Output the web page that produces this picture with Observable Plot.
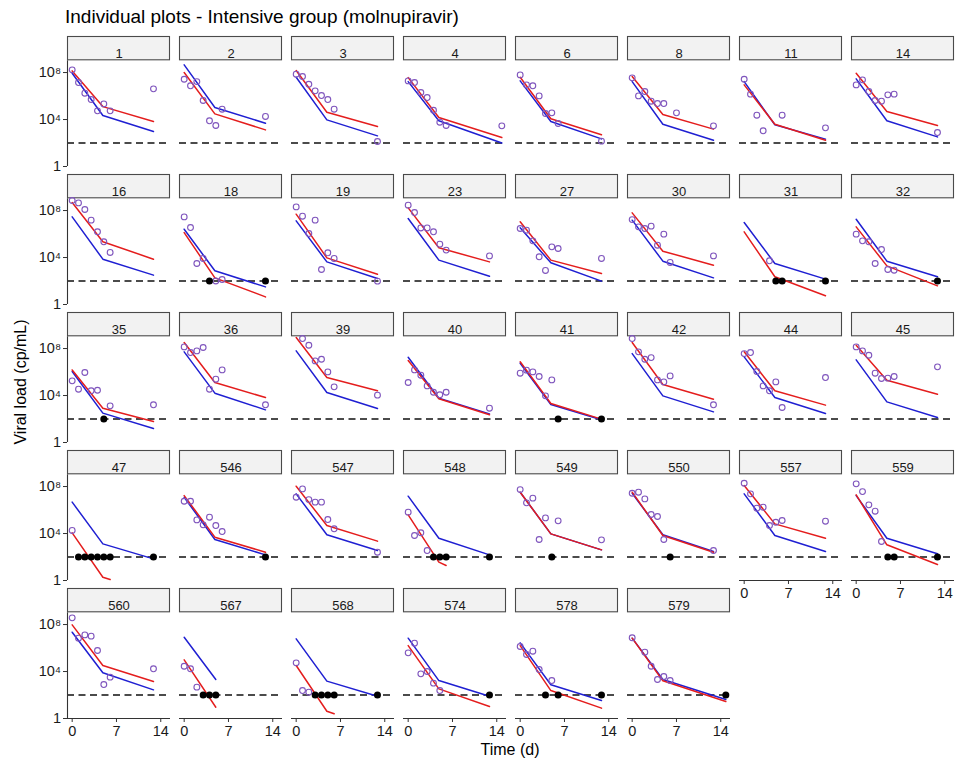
<!DOCTYPE html>
<html>
<head>
<meta charset="utf-8">
<script src="https://cdn.jsdelivr.net/npm/d3@7"></script>
<script src="https://cdn.jsdelivr.net/npm/@observablehq/plot@0.6"></script>
<style>
  body { margin: 0; background: #fff; font-family: "Liberation Sans", Arial, sans-serif; }
  #wrap { position: relative; width: 957px; height: 764px; overflow: hidden; }
  #chart { position: absolute; left: 0; top: 0; }
  #title { position: absolute; left: 65px; top: 7px; font-size: 19px; line-height: 19px; color: #000; white-space: nowrap; }
  #xlab { position: absolute; left: 510px; top: 742px; transform: translateX(-50%); font-size: 16px; line-height: 16px; color: #000; white-space: nowrap; }
  #ylab { position: absolute; left: 21px; top: 382px; transform: translate(-50%, -50%) rotate(-90deg); font-size: 16px; line-height: 16px; color: #000; white-space: nowrap; }
</style>
</head>
<body>
<div id="wrap">
  <div id="chart"></div>
  <div id="title">Individual plots - Intensive group (molnupiravir)</div>
  <div id="xlab">Time (d)</div>
  <div id="ylab">Viral load (cp/mL)</div>
</div>
<script>
// ---------------- data (log10 copies/mL, time in days) ----------------
const panelIds = ["1","2","3","4","6","8","11","14",
  "16","18","19","23","27","30","31","32",
  "35","36","39","40","41","42","44","45",
  "47","546","547","548","549","550","557","559",
  "560","567","568","574","578","579"];

// detected observations [day, log10 VL]
const detectedLog10 = [
  [[0,8.23],[1,7.15],[2,6.24],[3,5.70],[4,4.74],[5,5.33],[6,4.74],[12.85,6.61]],
  [[0,7.43],[1,6.87],[2,7.23],[3,5.62],[4,3.89],[5,3.49],[6,4.88],[12.85,4.26]],
  [[0,7.86],[1,7.66],[2,7.00],[3,6.44],[4,6.04],[5,5.70],[6,4.88],[12.85,2.13]],
  [[0,7.29],[1,7.15],[2,6.30],[3,5.87],[4,4.79],[5,3.77],[6,3.49],[14.8,3.46]],
  [[0,7.80],[1,6.95],[2,6.87],[3,6.01],[4,4.51],[5,4.57],[6,3.66],[12.85,2.16]],
  [[0,7.55],[1,6.01],[2,6.38],[3,5.56],[4,5.36],[5,5.36],[7,4.57],[12.85,3.46]],
  [[0,7.43],[1,6.16],[2,4.37],[3,3.04],[6,4.37],[12.85,3.29]],
  [[0,6.95],[1,7.38],[2,6.38],[3,5.62],[4,5.56],[5,6.10],[6,6.16],[12.85,2.89]],
  [[0,8.85],[1,8.65],[2,8.09],[3,7.18],[4,6.19],[5,5.34],[6,4.43]],
  [[0,7.46],[1,6.55],[2,3.49],[3,3.92],[5,2.00],[6,2.13]],
  [[0,8.31],[1,7.52],[2,6.04],[3,7.18],[4,2.98],[5,4.40],[6,3.92],[12.85,1.99]],
  [[0,8.46],[1,7.83],[2,6.52],[3,6.52],[4,6.19],[5,5.14],[6,4.63],[12.85,4.14]],
  [[0,6.47],[1,6.33],[2,5.42],[3,4.06],[4,2.90],[5,4.91],[6,4.77],[12.85,3.92]],
  [[0,7.23],[1,6.61],[2,6.47],[3,6.67],[4,5.05],[5,5.99],[6,3.58],[12.85,4.14]],
  [[4,3.72]],
  [[0,5.99],[1,5.42],[2,5.34],[3,3.49],[4,4.68],[5,2.98],[6,2.92]],
  [[0,5.25],[1,4.54],[2,5.96],[3,4.40],[4,4.45],[6,3.12],[12.85,3.21]],
  [[0,8.14],[1,7.66],[2,7.80],[3,8.09],[4,4.54],[5,5.39],[6,6.18],[12.85,3.21]],
  [[1,8.85],[2,8.28],[3,6.95],[4,7.09],[5,6.01],[6,4.74],[12.85,4.03]],
  [[0,5.11],[1,6.18],[2,5.73],[3,4.82],[4,4.28],[5,4.06],[6,4.28],[12.85,2.92]],
  [[0,5.90],[1,6.16],[2,6.01],[3,5.62],[4,3.97],[5,5.33]],
  [[0,8.85],[1,7.72],[2,7.09],[3,7.23],[4,5.33],[5,5.16],[6,5.67],[12.85,3.21]],
  [[0,7.57],[1,7.66],[2,6.04],[3,4.82],[4,4.40],[5,5.16],[6,2.98],[12.85,5.53]],
  [[0,8.14],[1,7.80],[2,7.43],[3,5.90],[4,5.45],[5,5.48],[6,5.62],[12.85,6.44]],
  [[0,4.26]],
  [[0,6.75],[1,6.75],[2,5.16],[3,4.74],[4,5.39],[5,4.68],[6,4.17]],
  [[0,7.09],[1,7.80],[2,6.89],[3,6.67],[4,6.67],[5,5.19],[6,4.40],[12.85,2.41]],
  [[0,5.82],[1,3.83],[2,4.06],[3,2.55]],
  [[0,7.74],[1,6.61],[2,7.01],[3,3.49],[4,5.33],[6,5.08],[12.85,3.46]],
  [[0,7.43],[1,7.52],[2,6.95],[3,5.62],[4,5.45],[5,3.49],[12.85,2.55]],
  [[0,8.28],[1,7.38],[2,6.16],[3,6.24],[4,4.68],[5,4.96],[6,5.11],[12.85,5.05]],
  [[0,8.23],[1,7.57],[2,6.44],[3,5.90],[4,3.32]],
  [[0,8.57],[1,6.84],[2,7.12],[3,7.01],[4,5.79],[5,2.89],[6,3.52],[12.85,4.23]],
  [[0,4.45],[1,4.23],[2,2.67]],
  [[0,4.74],[1,2.38],[2,2.24]],
  [[0,5.59],[1,6.41],[2,3.80],[3,4.00],[4,3.01],[5,2.38]],
  [[0,6.13],[1,5.45],[2,5.73],[3,4.17],[5,3.23]],
  [[0,6.87],[2,5.65],[3,4.45],[4,3.32],[5,3.57],[6,3.23]]
];

// samples below the limit of quantification (days)
const blqDays = [
  [],[],[],[],[],[],[],[],
  [],[4,12.85],[],[],[],[],[5,6,12.85],[12.85],
  [5],[],[],[],[6,12.85],[],[],[],
  [1,2,3,4,5,6,12.85],[12.85],[],[4,5,6,12.85],[5],[6],[],[5,6,12.85],
  [],[3,4,5],[3,4,5,6,12.85],[12.85],[4,6,12.85],[14.8]
];

// individual model fit (red) [day, log10 VL]
const fitRedLog10 = [
  [[0,8.14],[4.85,5.10],[12.85,3.83]],
  [[0,8.00],[4.85,4.48],[12.85,3.12]],
  [[0,8.17],[4.85,4.62],[12.85,3.40]],
  [[0,7.57],[4.85,4.17],[14.8,2.47]],
  [[0,7.60],[4.85,4.06],[12.85,2.70]],
  [[0,7.66],[4.85,4.43],[12.85,3.18]],
  [[0,6.95],[4.85,3.60],[12.85,2.24]],
  [[0,7.94],[4.85,4.68],[12.85,3.49]],
  [[0,8.68],[4.85,5.34],[12.85,3.86]],
  [[0,6.12],[4.85,2.27],[12.85,0.65]],
  [[0,7.69],[4.85,3.97],[12.85,2.58]],
  [[0,8.23],[4.85,4.83],[12.85,3.63]],
  [[0,7.04],[4.85,3.78],[12.85,2.64]],
  [[0,7.80],[4.85,4.54],[12.85,3.35]],
  [[0,6.19],[4.85,2.36],[12.85,0.74]],
  [[0,6.61],[4.85,3.29],[12.85,1.59]],
  [[0,6.18],[4.85,2.92],[12.85,1.79]],
  [[0,8.51],[4.85,5.11],[12.85,3.83]],
  [[0,8.94],[4.85,5.53],[12.85,4.40]],
  [[0,6.98],[4.85,3.72],[12.85,2.36]],
  [[0,6.87],[4.85,3.32],[12.85,1.99]],
  [[0,8.51],[4.85,4.94],[12.85,3.69]],
  [[0,7.72],[4.85,4.40],[12.85,3.18]],
  [[0,8.28],[4.85,5.30],[12.85,4.11]],
  [[0,4.06],[4.85,0.28],[6,0.09]],
  [[0,7.23],[4.85,3.69],[12.85,2.41]],
  [[0,8.03],[4.85,4.68],[12.85,3.35]],
  [[0,5.59],[4.85,1.56],[6,1.28]],
  [[0,7.52],[4.85,3.97],[12.85,2.61]],
  [[0,7.52],[4.85,3.83],[12.85,2.41]],
  [[0,8.09],[4.85,4.82],[12.85,3.60]],
  [[0,7.29],[4.85,3.04],[12.85,1.36]],
  [[0,7.97],[4.85,4.51],[12.85,3.15]],
  [[0,4.99],[5,0.96]],
  [[0,4.51],[4.85,0.62],[6,0.40]],
  [[0,6.21],[4.85,2.52],[12.85,1.02]],
  [[0,6.21],[4.85,2.38],[12.85,0.88]],
  [[0,6.84],[4.85,3.21],[14.8,1.45]]
];

// population model fit (blue) [day, log10 VL]
const fitBlueLog10 = [
  [[0,7.94],[4.85,4.34],[12.85,2.98]],
  [[0,8.65],[4.85,5.02],[12.85,3.69]],
  [[0,7.60],[4.85,3.97],[12.85,2.61]],
  [[0,7.23],[4.85,3.89],[14.8,2.00]],
  [[0,7.29],[4.85,3.83],[12.85,2.35]],
  [[0,7.23],[4.85,3.60],[12.85,2.24]],
  [[0,7.23],[4.85,3.55],[12.85,2.33]],
  [[0,7.46],[4.85,3.89],[12.85,2.52]],
  [[0,7.46],[4.85,3.86],[12.85,2.50]],
  [[0,6.41],[4.85,2.87],[12.85,1.50]],
  [[0,7.12],[4.85,3.63],[12.85,2.21]],
  [[0,7.32],[4.85,3.78],[12.85,2.41]],
  [[0,6.53],[4.85,3.55],[12.85,1.99]],
  [[0,7.18],[4.85,3.69],[12.85,2.27]],
  [[0,6.98],[4.85,3.49],[12.85,2.16]],
  [[0,7.26],[4.85,3.69],[12.85,2.36]],
  [[0,6.04],[4.85,2.50],[12.85,1.19]],
  [[0,7.72],[4.85,4.20],[12.85,2.78]],
  [[0,7.80],[4.85,4.26],[12.85,2.89]],
  [[0,7.26],[4.85,3.77],[12.85,2.44]],
  [[0,6.75],[4.85,3.23],[12.85,1.93]],
  [[0,7.57],[4.85,3.97],[12.85,2.61]],
  [[0,7.29],[4.85,3.83],[12.85,2.47]],
  [[0,7.04],[4.85,3.46],[12.85,2.13]],
  [[0,6.67],[4.85,3.12],[12.85,1.84]],
  [[0,7.09],[4.85,3.49],[12.85,2.18]],
  [[0,7.38],[4.85,3.89],[12.85,2.55]],
  [[0,7.18],[4.85,3.60],[12.85,2.18]],
  [[0,7.52],[4.85,3.97],[12.85,2.61]],
  [[0,7.43],[4.85,3.89],[12.85,2.47]],
  [[0,7.38],[4.85,3.83],[12.85,2.47]],
  [[0,7.23],[4.85,3.60],[12.85,2.27]],
  [[0,7.35],[4.85,3.89],[12.85,2.44]],
  [[0,6.92],[5,3.32]],
  [[0,6.78],[4.85,3.18],[12.85,1.90]],
  [[0,6.84],[4.85,3.23],[12.85,1.90]],
  [[0,6.44],[4.85,2.87],[12.85,1.53]],
  [[0,6.84],[4.85,3.32],[14.8,1.62]]
];

const loqCopies = 100;
const xTicks = [0, 7, 14];
const yTicks = [1, 1e4, 1e8];

// ---------------- layout helpers ----------------
const nCols = 8;
const xDomain = [-0.74, 15.54];
const bandPx = 130, stripPx = 24.3;
const yPanelTopLog = 9;
const yTopLog = yPanelTopLog * bandPx / (bandPx - stripPx);

const panels = panelIds.map((id, i) => ({id, col: i % nCols, row: Math.floor(i / nCols)}));
const bottomPanels = panels.filter(p => !panels.some(q => q.col === p.col && q.row === p.row + 1));
const leftPanels = panels.filter(p => p.col === 0);

const detected = panels.flatMap((p, i) => detectedLog10[i].map(([day, lg]) => ({...p, day, vl: 10 ** lg})));
const blq = panels.flatMap((p, i) => blqDays[i].map(day => ({...p, day, vl: loqCopies})));
const fitRed = panels.flatMap((p, i) => fitRedLog10[i].map(([day, lg]) => ({...p, day, vl: 10 ** lg, key: p.id + "r"})));
const fitBlue = panels.flatMap((p, i) => fitBlueLog10[i].map(([day, lg]) => ({...p, day, vl: 10 ** lg, key: p.id + "b"})));

const sup = "⁰¹²³⁴⁵⁶⁷⁸⁹";
const fmtY = d => d === 1 ? "1" : "10" + String(Math.round(Math.log10(d))).split("").map(c => sup[+c]).join("");

const F = {fx: "col", fy: "row"};

const chart = Plot.plot({
  width: 957,
  height: 764,
  marginLeft: 64,
  marginRight: 0.5,
  marginTop: 35,
  marginBottom: 46,
  style: {fontFamily: "'Liberation Sans', Arial, sans-serif", fontSize: "14px", color: "#1a1a1a", background: "transparent", overflow: "visible"},
  fx: {axis: null, domain: d3.range(nCols), paddingInner: 0.077, paddingOuter: 0},
  fy: {axis: null, domain: d3.range(5), paddingInner: 0.06, paddingOuter: 0},
  x: {domain: xDomain},
  y: {type: "log", domain: [1, 10 ** yTopLog]},
  marks: [
    // strips
    Plot.rect(panels, {...F, x1: () => xDomain[0], x2: () => xDomain[1], y1: () => 10 ** yPanelTopLog, y2: () => 10 ** yTopLog,
      fill: "#f2f2f2", stroke: "#4a4a4a", strokeWidth: 1.1, inset: 0.5}),
    Plot.text(panels, {...F, text: "id", frameAnchor: "top", dy: 12.3, fontSize: 13, fill: "#1a1a1a"}),
    // limit of quantification
    Plot.ruleY(panels, {...F, y: () => loqCopies, stroke: "#111", strokeWidth: 1.4, strokeDasharray: "7,4.5"}),
    // fits
    Plot.line(fitBlue, {...F, x: "day", y: "vl", z: "key", stroke: "#1f1fd2", strokeWidth: 1.5}),
    Plot.line(fitRed, {...F, x: "day", y: "vl", z: "key", stroke: "#e41d1d", strokeWidth: 1.5}),
    // observations
    Plot.dot(detected, {...F, x: "day", y: "vl", r: 2.9, stroke: "#7f55bd", fill: "none", strokeWidth: 1.1}),
    Plot.dot(blq, {...F, x: "day", y: "vl", r: 3.5, fill: "#000", stroke: "none"}),
    // axis lines
    Plot.ruleY(bottomPanels, {...F, y: () => 1, stroke: "#333", strokeWidth: 1.1}),
    Plot.ruleX(leftPanels, {...F, x: () => xDomain[0], y1: () => 1, y2: () => 10 ** yPanelTopLog, stroke: "#333", strokeWidth: 1.1}),
    // axes
    Plot.axisY({ticks: yTicks, tickFormat: fmtY, tickSize: 4, tickPadding: 2.5, fontSize: 14.5, label: null, stroke: "#333", fill: "#1a1a1a", facetAnchor: "left"}),
    Plot.axisX({ticks: xTicks, tickFormat: d => String(d), tickSize: 4, tickPadding: 3, fontSize: 14.5, label: null, stroke: "#333", fill: "#1a1a1a", facetAnchor: "bottom-empty"})
  ]
});
document.getElementById("chart").appendChild(chart);
</script>
</body>
</html>
